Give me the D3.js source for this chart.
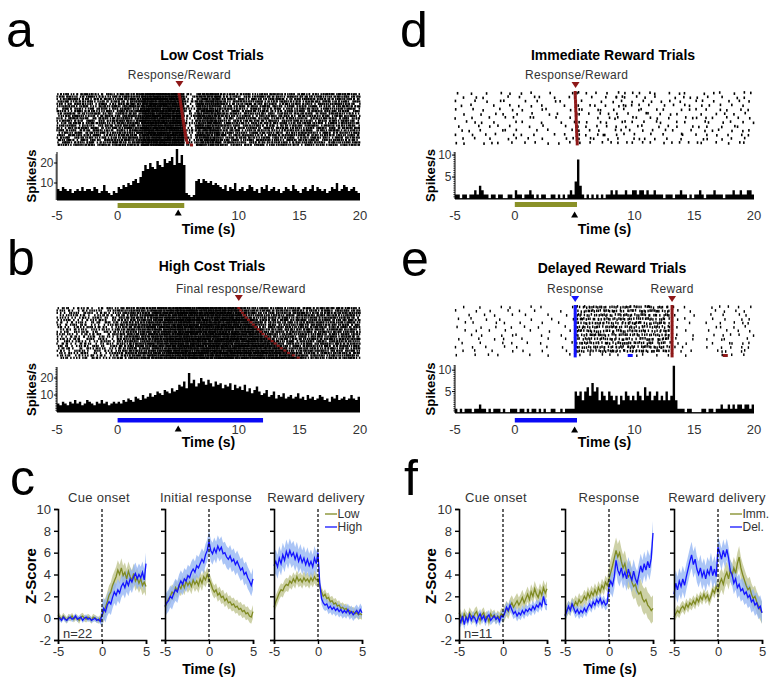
<!DOCTYPE html>
<html><head><meta charset="utf-8">
<script src="https://cdn.jsdelivr.net/npm/d3@7"></script>
<style>body{margin:0;background:#fff}svg{display:block}text{font-family:"Liberation Sans",Arial,Helvetica,sans-serif}</style>
</head><body><svg id="c" width="783" height="688"></svg>
<script>
// ---------------- DATA ----------------
const timeTicks = [-5, 0, 10, 15, 20];
const psthBin = 0.2;      // s per PSTH bin
const rasterBin = 0.5;    // s per raster count bin
const zStep = 0.2;        // s per z-score sample

const psthLow = [7,6,8,7,6,7,5,6,7,6,8,6,7,7,6,8,7,5,6,9,6,5,4,6,5,
 8,7,9,8,10,9,11,12,10,13,
 16,19,17,20,18,17,21,19,18,22,20,21,23,19,27,20,24,19,
 5,4,3,4,
 11,12,10,12,11,10,11,9,10,9,
 8,7,9,6,8,7,10,6,7,8,6,7,9,8,6,7,5,8,7,9,6,7,8,6,7,5,6,8,7,6,9,7,6,5,7,8,6,7,9,6,8,7,6,7,5,6,8,7,10,6,7,9,8,6,7,8,6,5];
const psthHigh = [5,4,6,5,4,6,5,7,5,6,4,5,7,6,5,4,6,5,7,5,6,4,5,6,5,
 6,5,7,6,8,7,6,9,8,7,10,8,9,11,9,10,12,11,10,13,12,11,14,12,13,
 16,15,18,14,23,17,19,15,17,20,18,16,19,17,15,18,16,17,14,16,15,17,13,16,14,
 15,13,16,12,14,11,13,15,12,10,11,13,9,10,12,8,10,9,11,8,9,10,8,9,11,
 8,9,7,10,8,9,7,8,10,9,7,8,6,9,8,10,7,8,9,7,8,10,8,7,9];
const psthImm = [1,1,0,1,1,0,1,1,2,1,3,2,1,1,0,1,1,0,1,1,0,0,1,1,0,
 2,1,1,0,1,1,2,1,0,1,0,1,1,0,0,1,1,0,1,0,1,0,1,2,1,
 4,9,3,1,0,1,0,1,0,1,0,1,0,1,1,2,1,2,1,1,1,2,1,1,2,
 2,1,2,2,1,2,1,1,2,1,1,1,0,1,1,1,0,1,1,2,1,1,0,1,0,
 1,1,2,1,0,1,1,1,2,1,1,1,0,1,1,1,2,1,1,2,1,1,2,2,1];
const psthDel = [1,0,1,0,1,1,1,0,1,1,2,1,1,0,1,0,1,1,1,0,1,0,0,1,1,
 1,0,1,1,0,1,0,1,1,0,1,0,1,0,0,1,1,0,0,1,0,1,1,1,1,
 5,4,5,3,5,6,4,7,5,6,3,5,4,3,5,4,3,4,2,4,3,5,4,3,4,
 3,5,4,3,6,4,5,3,4,5,3,4,3,5,3,4,11,3,1,1,1,0,1,1,0,
 0,0,0,1,1,0,1,1,0,1,1,2,1,1,2,1,2,1,2,2,1,2,2,1,2];

// raster: spike counts per 0.5 s bin, one string per trial (spaces ignored)
const rasterLow = [
"3423543243 4536 789879 7 21 5675 34435243543425343534543",
"4342353424 3645 879789 8 12 6567 43524354342534435243534",
"2453424352 5463 798987 6 21 5756 35342534453243534425343",
"3524352434 4356 987898 8 23 6576 42534352435342543534425",
"4235342523 6453 878979 7 12 5667 53425343524353425345342",
"3442532435 3564 799878 9 21 7565 34352435342534352434535",
"2534243524 4635 889797 8 32 6756 45342534352435342534352",
"4325343252 5346 978889 7 21 5675 32534435243534253443524",
"3452435342 6453 897987 9 12 6567 43524353425343524354342",
"2435342453 3564 789898 8 23 7656 53435243534425343524353",
"4253423534 4635 988979 7 21 5765 34253435243534253443525",
"3534252435 5436 879889 8 12 6576 42535343524353425343542",
"2345343524 6354 798978 9 32 5667 35342534435243534253434",
"4352432453 4563 889797 8 21 7565 53425343524353442534352",
"3243534235 3645 978898 7 12 6756 24353425344352435342535",
"5342435342 5364 897889 8 23 5675 43524353425343524354243",
"2435243534 4536 789979 9 21 6567 35342534352435342534435",
"4253435243 6453 988897 8 12 7656 52435342534435243534253",
"3524352434 3564 879798 9 22 5765 34353425343524353425344",
"4342534253 4635 798889 8 31 6576 43524354342534352435342",
"2534352435 5346 889979 9 12 5667 35342534435243534253435",
"3425342534 6453 978898 9 21 7565 42534352435342534352434"];
const rasterHigh = [
"2312321232 3434545656 7867878687 54344353443534435343",
"3221323123 4345456567 8786787878 45435344353443534534",
"2132231322 3453546576 7878687867 74534435345343534435",
"1323212332 4354565667 8687878786 64353443534535344353",
"3212323213 3445456576 7878678787 75434535344353453443",
"2321232312 4353546567 8787867878 76534435345343534354",
"3123213232 3445465676 7867878687 67453443534535344353",
"2232312123 4354556567 8786787878 76743534435345343534",
"3213232312 3445465676 7878678787 67643534435345343534",
"1322313223 4354556567 8687878786 76753443534535344353",
"2312322132 3453546576 7878687867 67674353443534535344",
"3221323123 4345465667 8786787878 76764534435345343534",
"2132231322 3454556576 7867878687 67676434535344353453",
"3223132312 4345456567 8787867878 76767535344353453435",
"1323212332 3453546576 7878678787 67676743534435345343",
"2312321232 4354565667 8687878786 76767653443534535344",
"3212323213 3445456576 7878687867 67676764353443534535",
"2321232312 4353546567 8786787878 76767675344353453435",
"3123213232 3445465676 7867878687 67676767434535344353",
"2232312123 4354556567 8787867878 76767676753443534535",
"3213232312 3445465676 7878678787 67676767645344353453",
"1322313223 4354556567 8687878786 76767676765344353453"];
const rasterImm = [
"1010010101 0110010001 2101010111 1011010110 0101101011",
"0101100010 1001101001 1010011210 1101001011 1010100110",
"1001010110 0101001100 1100101101 0110110100 1101010101",
"0110001001 1010100010 1011010121 1010011011 0110101010",
"1001100101 0100110001 1101101010 1101100101 1010110101",
"0100101010 1010010100 2010110110 0110101100 0101011010",
"1010010011 0011001001 1001011101 1011010011 1101010101",
"0101101000 1100100101 1010110111 0101100110 0110101011",
"1001010101 0010100010 1101011010 1100110101 1010101100",
"0110100110 1001010001 1010101101 0101011001 0101101011",
"1010011001 0101001010 1101110110 1010100110 1011010101",
"0101010010 1010100011 1011010101 1101010100 0110101010",
"1100101101 0101010101 1010101111 0110101101 1101010110"];
const rasterDel = [
"0100100101 0010100001 3243423243 324232 1010 00 10110101",
"1001010010 1001000100 2334243324 243423 0101 00 01011010",
"0010101001 0100010010 4232432342 342324 1001 00 10100110",
"1010010100 0010001001 3423342433 234232 0110 00 01010101",
"0101001010 1000100100 2342423234 423342 1001 00 10101011",
"1000101001 0101000010 3324234324 232423 0100 00 01101010",
"0101010010 0010010001 4243232433 342234 1010 00 10010101",
"0010100101 1000100100 2334423242 423324 0101 00 01101101",
"1001001010 0100010010 3242334232 234243 1001 00 10110010",
"0100100101 0010100001 2433242343 324232 0110 00 01011011",
"1010010010 1000010100 3324323424 243342 1010 00 10101101",
"0101001001 0100100010 4232434233 342423 0101 00 01110110",
"1001010100 0010010001 1010110100 110101 0010 00 00101010"];

// per-trial event times (s)
const respLow = [5.08,5.12,5.15,5.18,5.21,5.24,5.27,5.3,5.33,5.36,5.39,5.42,5.45,5.48,5.51,5.54,5.57,5.6,5.64,5.69,5.76,6.1];
const respHigh = [10.0,10.15,10.3,10.45,10.6,10.8,11.0,11.2,11.4,11.6,11.8,12.0,12.25,12.5,12.75,13.0,13.25,13.5,13.8,14.1,14.5,14.9];
const respImm = [5.05,5.06,5.08,5.09,5.1,5.12,5.13,5.14,5.16,5.17,5.18,5.2,5.22];
const respDel = [5.05,5.05,5.05,5.05,5.05,5.05,5.05,5.05,5.05,5.05,5.05,5.05,5.05];
const rewardDel = [13.15,13.15,13.15,13.15,13.15,13.15,13.15,13.15,13.15,13.15,13.15,13.15,13.15];
const extraRespDel = [9.65];
const extraRewardDel = [17.6];
const cueBarLow = [0, 5.5], cueBarHigh = [0, 12], cueBarImm = [0, 5.2], cueBarDel = [0, 5.2];

// z-score traces, -5..5 s every 0.2 s
const cueLowZ = [0.3,0.1,-0.1,0.2,0.0,-0.2,0.1,0.0,0.2,-0.1,0.1,0.0,-0.2,0.1,0.2,0.0,-0.1,0.1,0.0,-0.2,0.1,0.0,-0.1,-0.2,0.0,0.2,0.6,1.0,1.5,2.1,2.4,3.0,3.4,3.8,4.4,4.0,4.6,3.9,4.2,3.6,4.3,3.8,3.5,4.1,3.4,3.7,3.2,3.6,3.0,3.3,2.9];
const cueHighZ = [-0.1,0.0,-0.2,0.1,-0.1,-0.2,0.0,0.1,-0.1,0.0,0.2,-0.1,0.0,0.1,-0.2,0.0,0.1,-0.1,0.0,-0.2,-0.1,0.0,-0.2,-0.1,-0.3,0.3,0.9,0.6,1.2,1.5,1.3,1.9,2.4,2.1,2.6,2.3,2.9,3.2,2.8,3.4,3.0,3.6,3.3,3.8,4.1,3.6,4.0,3.7,4.2,3.5,5.0];
const initLowZ = [1.0,1.4,1.8,2.0,2.4,2.2,2.8,2.5,3.0,2.7,3.2,2.8,3.4,3.0,3.3,2.9,3.5,3.1,3.4,3.0,3.6,3.2,3.8,3.5,4.0,3.6,3.2,2.7,2.4,2.6,2.1,2.3,1.9,2.0,1.6,1.8,1.4,1.5,1.2,1.3,1.0,1.1,0.8,0.9,0.6,0.7,0.4,0.5,0.2,0.1,0.6];
const initHighZ = [1.1,1.4,1.6,2.0,1.8,2.3,2.6,2.4,3.0,3.4,3.1,3.6,3.4,3.9,3.7,4.2,4.5,4.2,4.8,4.6,5.0,5.4,5.1,5.8,6.2,7.0,6.2,5.9,6.4,6.0,6.6,6.2,6.5,5.9,6.0,5.6,5.4,5.7,5.2,5.4,4.9,5.2,4.8,4.4,4.6,4.0,4.2,3.7,3.4,3.0,3.6];
const rewLowZ = [1.0,1.5,1.9,2.3,2.6,2.5,2.9,3.1,3.0,3.4,3.2,3.6,3.3,3.8,3.4,3.6,3.3,3.7,3.4,3.6,3.3,3.7,3.4,3.8,3.5,3.6,2.9,2.4,2.0,2.2,1.8,1.9,1.5,1.6,1.3,1.4,1.1,1.2,0.9,1.0,0.8,0.9,0.6,0.7,0.5,0.6,0.4,0.5,0.3,0.4,0.3];
const rewHighZ = [4.8,5.2,4.7,5.5,5.0,5.8,5.3,6.1,5.6,6.2,5.7,6.0,5.4,5.9,5.2,5.7,5.1,5.5,4.9,5.4,4.8,5.2,4.7,5.5,5.0,6.0,3.2,1.8,1.4,1.2,1.3,0.9,1.1,0.8,1.0,0.7,0.9,0.6,0.8,0.5,0.7,0.5,0.8,0.4,0.6,0.3,0.5,0.7,0.4,0.8,0.5];
const fCueImmZ = [0.5,0.2,-0.2,0.4,0.1,-0.1,0.5,0.2,0.0,0.4,0.6,0.1,-0.2,0.3,0.5,0.0,0.2,-0.3,0.4,0.1,0.3,-0.1,0.2,0.0,0.4,0.2,0.5,0.9,0.6,1.1,1.4,1.0,1.3,1.6,1.2,1.5,1.9,1.4,1.8,2.2,1.7,2.4,2.0,2.7,2.2,1.9,2.5,2.1,2.8,2.3,2.7];
const fCueDelZ = [0.0,-0.4,0.2,-0.6,0.1,-0.3,0.3,-0.2,0.2,0.0,-0.4,0.1,0.4,-0.1,0.2,-0.3,0.1,0.3,-0.2,0.0,0.2,-0.1,0.1,-0.3,0.2,0.1,0.5,1.0,0.7,1.2,0.8,0.4,0.6,0.2,0.5,0.3,0.7,0.4,0.8,0.6,0.9,0.7,1.1,0.8,1.2,1.0,1.4,1.1,2.0,1.3,1.2];
const fRespImmZ = [0.3,0.7,1.0,0.8,1.3,1.1,1.5,1.2,1.7,1.4,1.6,2.0,1.7,2.3,1.9,2.4,2.1,2.6,2.2,2.8,2.4,3.0,2.7,3.3,3.0,3.6,4.2,4.8,5.5,6.2,5.6,6.0,5.2,4.6,5.0,4.2,3.8,4.1,3.3,2.9,3.1,2.5,2.2,2.4,1.8,1.5,1.7,1.2,1.0,0.7,0.9];
const fRespDelZ = [0.2,0.6,1.1,0.7,1.3,0.9,0.5,0.8,0.4,0.7,0.5,0.9,0.6,1.0,1.3,1.0,1.5,1.2,1.7,1.4,1.8,1.3,1.6,1.2,1.4,2.9,3.4,3.0,3.8,5.3,4.4,4.0,4.6,3.8,4.2,3.6,4.5,3.9,3.5,4.3,3.6,3.2,4.0,4.8,4.2,5.0,4.4,5.2,4.6,5.5,7.8];
const fRewImmZ = [0.1,0.4,0.7,0.5,0.9,1.1,0.8,1.3,1.0,1.4,1.2,1.6,1.3,1.8,1.5,2.0,1.7,2.2,1.8,2.1,1.6,2.0,2.6,2.3,2.9,2.5,3.2,3.6,3.1,3.8,4.2,3.6,4.4,3.9,4.6,4.1,5.0,5.6,4.6,4.0,3.5,3.0,2.6,2.8,2.2,1.8,2.0,1.5,1.1,0.8,0.5];
const fRewDelZ = [2.2,3.2,2.6,3.4,2.9,3.6,3.0,3.8,4.5,5.2,5.8,4.9,5.4,4.5,4.0,4.6,3.8,4.3,3.6,4.4,4.0,4.8,3.9,4.5,3.8,6.5,6.0,5.4,6.2,5.6,6.3,5.5,4.3,4.0,3.2,3.6,2.8,3.1,2.5,2.7,2.2,2.4,1.9,2.1,1.5,1.7,1.2,1.4,0.9,1.1,0.5];
// SEM [before 0, after 0]
const semCueLow = [0.3, 0.9], semCueHigh = [0.25, 1.0];
const semInitLow = [0.7, 0.6], semInitHigh = [1.0, 1.0];
const semRewLow = [0.6, 0.45], semRewHigh = [1.1, 0.55];
const semFCueImm = [0.5, 0.7], semFCueDel = [0.45, 0.5];
const semFRespImm = [0.6, 1.2], semFRespDel = [0.5, 1.1];
const semFRewImm = [0.5, 1.0], semFRewDel = [1.2, 1.0];
const zTicks = [-2, 0, 2, 4, 6, 8, 10];

// ---------------- DRAWING ----------------
const svg = d3.select('#c');
svg.append('rect').attr('width', 783).attr('height', 688).attr('fill', '#fff');
const RED = '#8e1818', OLIVE = '#7f8a22', OLIVEBAR = '#8a9128', BLUE = '#1414ff', BLUEBAR = '#0a0af5';
const OLIVEBAND = '#bcc189', BLUEBAND = '#8fb1f3', GREY = '#333';

function triDown(cx, cy, w, h) { return `M${cx - w / 2},${cy - h / 2}L${cx + w / 2},${cy - h / 2}L${cx},${cy + h / 2}Z`; }
function triUp(cx, cy, w, h) { return `M${cx - w / 2},${cy + h / 2}L${cx + w / 2},${cy + h / 2}L${cx},${cy - h / 2}Z`; }
// deterministic in-bin placement (layout only; counts come from the raster strings)
function place(a, b, c) { const v = Math.sin(a * 127.1 + b * 311.7 + c * 74.7) * 43758.5453; return v - Math.floor(v); }

// panel letters
[['a', 6, 47], ['b', 7, 275], ['c', 10, 495], ['d', 400, 47], ['e', 401, 276], ['f', 404, 495]].forEach(([l, x, y]) => {
  svg.append('text').attr('x', x).attr('y', y).style('font-size', '50px').attr('fill', '#000').text(l);
});

function psthPanel(p) {
  const g = svg.append('g');
  const x = d3.scaleLinear().domain([-5, 20]).range(p.xr);
  g.append('text').attr('x', p.titleX).attr('y', p.titleY).attr('text-anchor', 'middle').attr('dominant-baseline', 'central')
    .style('font-size', '14px').style('font-weight', 'bold').text(p.title);
  p.events.forEach(ev => {
    g.append('text').attr('x', x(ev.t) + ev.dx).attr('y', p.labelY).attr('text-anchor', 'middle').attr('dominant-baseline', 'central')
      .style('font-size', '12px').style('letter-spacing', '0.3px').attr('fill', GREY).text(ev.label);
    g.append('path').attr('d', triDown(x(ev.t), p.markerY, 8, 6)).attr('fill', ev.color);
  });
  // raster
  const rows = p.rows.map(s => s.replace(/\s/g, ''));
  const pitch = (p.rasterBottom - p.rasterTop) / rows.length;
  const spikes = [];
  rows.forEach((s, r) => {
    for (let b = 0; b < s.length; b++) {
      const c = +s[b];
      for (let k = 0; k < c; k++) {
        const f = place(r + 1, b + 1, k + 1);
        spikes.push({ t: -5 + rasterBin * b + rasterBin * (k + f) / c, r, dy: place(b + 3, r + 7, k + 2) });
      }
    }
  });
  g.append('g').selectAll('rect').data(spikes).join('rect')
    .attr('x', d => x(d.t) - p.tickW / 2).attr('y', d => p.rasterTop + d.r * pitch + (pitch - p.tickH) * d.dy)
    .attr('width', p.tickW).attr('height', p.tickH).attr('fill', '#000');
  p.eventTicks.forEach(et => {
    g.append('g').selectAll('rect').data(et.times).join('rect')
      .attr('x', d => x(d) - 1.5).attr('y', (d, i) => p.rasterTop + i * pitch)
      .attr('width', 3).attr('height', pitch + (et.gap ? -0.3 : 0.4)).attr('fill', et.color);
  });
  (p.extra || []).forEach(ex => {
    g.append('g').selectAll('rect').data(ex.times).join('rect')
      .attr('x', d => x(d) - 2.5).attr('y', p.rasterBottom - 3).attr('width', 5).attr('height', 3).attr('fill', ex.color);
  });
  // PSTH
  const y = d3.scaleLinear().domain(p.yDom).range(p.yRange);
  const pts = p.vals.map((v, i) => ({ t: -5 + i * psthBin, v }));
  pts.push({ t: 20, v: p.vals[p.vals.length - 1] });
  g.append('path').datum(pts).attr('fill', '#000')
    .attr('d', d3.area().curve(d3.curveStepAfter).x(d => x(d.t)).y0(p.base).y1(d => Math.min(p.base - 0.8, y(d.v))));
  g.append('line').attr('x1', p.xr[0]).attr('x2', p.xr[1]).attr('y1', p.base).attr('y2', p.base).attr('stroke', '#000').attr('stroke-width', 1);
  // y axis
  g.append('line').attr('x1', p.xr[0]).attr('x2', p.xr[0]).attr('y1', p.yTop).attr('y2', p.base).attr('stroke', '#000').attr('stroke-width', 1);
  const minor = d3.range(p.minorStart, p.yDom[1], p.minor);
  g.append('g').selectAll('line').data(minor).join('line')
    .attr('x1', p.xr[0] - 1.6).attr('x2', p.xr[0]).attr('y1', d => y(d)).attr('y2', d => y(d)).attr('stroke', '#000').attr('stroke-width', 0.8);
  p.yTicks.forEach(v => {
    g.append('line').attr('x1', p.xr[0] - 3).attr('x2', p.xr[0]).attr('y1', y(v)).attr('y2', y(v)).attr('stroke', '#000');
    g.append('text').attr('x', p.xr[0] - 3.5).attr('y', y(v)).attr('text-anchor', 'end').attr('dominant-baseline', 'central')
      .style('font-size', '12px').attr('fill', GREY).text(v);
  });
  g.append('text').attr('transform', `translate(${p.spX},${(p.yTop + p.base) / 2}) rotate(-90)`).attr('text-anchor', 'middle')
    .attr('dominant-baseline', 'central').style('font-size', '13px').style('font-weight', 'bold').text('Spikes/s');
  // cue bar, markers, tick labels
  g.append('rect').attr('x', x(p.bar[0])).attr('width', x(p.bar[1]) - x(p.bar[0])).attr('y', p.barY).attr('height', p.barH).attr('fill', p.barColor);
  g.append('path').attr('d', triUp(x(5), p.triY, 7, 6)).attr('fill', '#000');
  timeTicks.forEach(t => {
    g.append('text').attr('x', x(t)).attr('y', p.tickY).attr('text-anchor', 'middle').attr('dominant-baseline', 'central')
      .style('font-size', '13px').attr('fill', GREY).text(String(t));
  });
  g.append('text').attr('x', x(7.5)).attr('y', p.timeY).attr('text-anchor', 'middle').attr('dominant-baseline', 'central')
    .style('font-size', '14px').style('font-weight', 'bold').text('Time (s)');
}

psthPanel({ xr: [57, 360], title: 'Low Cost Trials', titleX: 212, titleY: 55, labelY: 75, markerY: 84,
  events: [{ label: 'Response/Reward', t: 5.1, dx: 0, color: RED }],
  rows: rasterLow, rasterTop: 93, rasterBottom: 146, tickW: 1.5, tickH: 2.2,
  eventTicks: [{ times: respLow, color: RED }],
  vals: psthLow, yDom: [0, 25], yRange: [203, 153], base: 200, yTop: 152, minorStart: 2, minor: 1, yTicks: [10, 20],
  spX: 31, bar: cueBarLow, barColor: OLIVEBAR, barY: 203, barH: 5, triY: 212.5, tickY: 215, timeY: 229 });

psthPanel({ xr: [57, 360], title: 'High Cost Trials', titleX: 212, titleY: 266, labelY: 289, markerY: 298,
  events: [{ label: 'Final response/Reward', t: 10, dx: 2, color: RED }],
  rows: rasterHigh, rasterTop: 307, rasterBottom: 359, tickW: 1.5, tickH: 2.2,
  eventTicks: [{ times: respHigh, color: RED, gap: true }],
  vals: psthHigh, yDom: [0, 26.5], yRange: [412, 367], base: 412, yTop: 367, minorStart: 1, minor: 1, yTicks: [10, 20],
  spX: 31, bar: cueBarHigh, barColor: BLUEBAR, barY: 418, barH: 4.5, triY: 428.5, tickY: 429, timeY: 442 });

psthPanel({ xr: [455, 754], title: 'Immediate Reward Trials', titleX: 613, titleY: 55, labelY: 75, markerY: 85,
  events: [{ label: 'Response/Reward', t: 5.08, dx: 1, color: RED }],
  rows: rasterImm, rasterTop: 91, rasterBottom: 145, tickW: 1.6, tickH: 2.6,
  eventTicks: [{ times: respImm, color: RED }],
  vals: psthImm, yDom: [0, 10.7], yRange: [199, 152], base: 199, yTop: 152, minorStart: 0.5, minor: 0.5, yTicks: [5, 10],
  spX: 430, bar: cueBarImm, barColor: OLIVEBAR, barY: 202, barH: 5, triY: 214.5, tickY: 215, timeY: 229 });

psthPanel({ xr: [455, 754], title: 'Delayed Reward Trials', titleX: 612, titleY: 268, labelY: 289, markerY: 299,
  events: [{ label: 'Response', t: 5.05, dx: 0, color: BLUE }, { label: 'Reward', t: 13.15, dx: 0, color: RED }],
  rows: rasterDel, rasterTop: 305, rasterBottom: 357, tickW: 1.4, tickH: 2.6,
  eventTicks: [{ times: respDel, color: BLUE }, { times: rewardDel, color: RED }],
  extra: [{ times: extraRespDel, color: BLUE }, { times: extraRewardDel, color: RED }],
  vals: psthDel, yDom: [0, 11.2], yRange: [413, 365], base: 413, yTop: 365, minorStart: 0.5, minor: 0.5, yTicks: [5, 10],
  spX: 430, bar: cueBarDel, barColor: BLUEBAR, barY: 418, barH: 4.5, triY: 429.5, tickY: 429, timeY: 442 });

// ---------- Z-score panels ----------
const zy = d3.scaleLinear().domain([-2, 10]).range([640, 509]);
function zSub(x0, title, titleX, series, showLabels, legend, nText) {
  const g = svg.append('g');
  const x = d3.scaleLinear().domain([-5, 5]).range([x0, x0 + 88]);
  const mk = s => s.vals.map((v, i) => { const t = -5 + i * zStep; return { t, v, e: t < -0.01 ? s.sem[0] : s.sem[1] }; });
  series.forEach(s => {
    g.append('path').datum(mk(s)).attr('fill', s.band).attr('opacity', 0.75)
      .attr('d', d3.area().x(d => x(d.t)).y0(d => zy(d.v - d.e)).y1(d => zy(d.v + d.e)));
  });
  series.forEach(s => {
    g.append('path').datum(mk(s)).attr('fill', 'none').attr('stroke', s.color).attr('stroke-width', 1.3)
      .attr('d', d3.line().x(d => x(d.t)).y(d => zy(d.v)));
  });
  g.append('line').attr('x1', x(0)).attr('x2', x(0)).attr('y1', zy(10)).attr('y2', zy(-2))
    .attr('stroke', '#000').attr('stroke-width', 1.2).attr('stroke-dasharray', '3,2');
  const ya = g.append('g').attr('transform', `translate(${x0},0)`)
    .call(d3.axisLeft(zy).tickValues(zTicks).tickSize(4).tickFormat(showLabels ? (d => String(d)) : ''));
  const xa = g.append('g').attr('transform', `translate(0,${zy(-2)})`)
    .call(d3.axisBottom(x).tickValues([-5, 0, 5]).tickSize(4).tickFormat(d => String(d)));
  [ya, xa].forEach(a => {
    a.select('.domain').attr('stroke-width', 1.6);
    a.selectAll('.tick line').attr('stroke-width', 1.4);
    a.selectAll('text').style('font-size', '13px').attr('fill', GREY).style('font-family', '"Liberation Sans",Arial,sans-serif');
  });
  g.append('text').attr('x', titleX).attr('y', 497).attr('text-anchor', 'middle').attr('dominant-baseline', 'central')
    .style('font-size', '13px').style('letter-spacing', '0.3px').attr('fill', GREY).text(title);
  if (legend) {
    legend.forEach((l, i) => {
      const yy = 514 + i * 13;
      g.append('line').attr('x1', l.x).attr('x2', l.x + 12).attr('y1', yy).attr('y2', yy).attr('stroke', l.color).attr('stroke-width', 1.3);
      g.append('text').attr('x', l.x + 12.5).attr('y', yy).attr('dominant-baseline', 'central').style('font-size', '12px')
        .attr('fill', GREY).text(l.label);
    });
  }
  if (nText) g.append('text').attr('x', x0 + 5).attr('y', 633).attr('dominant-baseline', 'central').style('font-size', '13px').attr('fill', GREY).text(nText);
}
function zLabels(xLab, xTime) {
  svg.append('text').attr('transform', `translate(${xLab},576) rotate(-90)`).attr('text-anchor', 'middle').attr('dominant-baseline', 'central')
    .style('font-size', '15px').style('font-weight', 'bold').text('Z-Score');
  svg.append('text').attr('x', xTime).attr('y', 669).attr('text-anchor', 'middle').attr('dominant-baseline', 'central')
    .style('font-size', '14px').style('font-weight', 'bold').text('Time (s)');
}
const S = (vals, sem, color, band) => ({ vals, sem, color, band });
zSub(58, 'Cue onset', 99, [S(cueLowZ, semCueLow, OLIVE, OLIVEBAND), S(cueHighZ, semCueHigh, BLUE, BLUEBAND)], true, null, 'n=22');
zSub(165, 'Initial response', 206, [S(initLowZ, semInitLow, OLIVE, OLIVEBAND), S(initHighZ, semInitHigh, BLUE, BLUEBAND)], false);
zSub(274, 'Reward delivery', 316, [S(rewLowZ, semRewLow, OLIVE, OLIVEBAND), S(rewHighZ, semRewHigh, BLUE, BLUEBAND)], false,
  [{ label: 'Low', color: OLIVE, x: 325 }, { label: 'High', color: BLUE, x: 325 }]);
zLabels(30, 209);
zSub(459, 'Cue onset', 496, [S(fCueImmZ, semFCueImm, OLIVE, OLIVEBAND), S(fCueDelZ, semFCueDel, BLUE, BLUEBAND)], true, null, 'n=11');
zSub(565, 'Response', 609, [S(fRespImmZ, semFRespImm, OLIVE, OLIVEBAND), S(fRespDelZ, semFRespDel, BLUE, BLUEBAND)], false);
zSub(674, 'Reward delivery', 717, [S(fRewImmZ, semFRewImm, OLIVE, OLIVEBAND), S(fRewDelZ, semFRewDel, BLUE, BLUEBAND)], false,
  [{ label: 'Imm.', color: OLIVE, x: 730 }, { label: 'Del.', color: BLUE, x: 730 }]);
zLabels(430, 610);
</script></body></html>
